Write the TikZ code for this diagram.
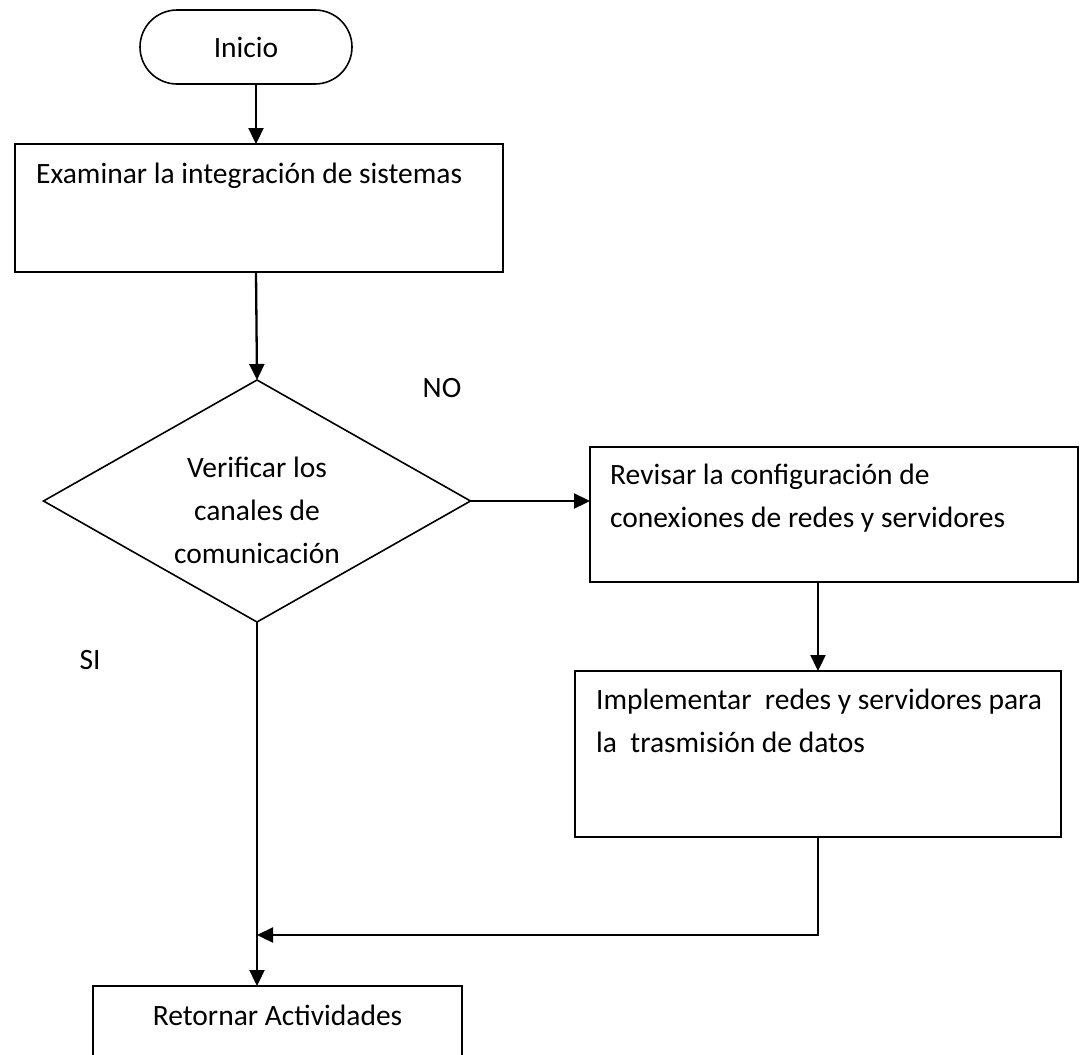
\documentclass[tikz,border=0pt]{standalone}
\usepackage{fontspec}
\setmainfont{Carlito}
\usetikzlibrary{shapes.geometric,arrows.meta,calc}
\begin{document}
\begin{tikzpicture}[x=1pt,y=-1pt,
  txt/.style={font=\fontsize{29.5}{43}\selectfont,inner sep=0pt,align=left},
  shp/.style={draw,line width=1.6pt,inner sep=0pt,outer sep=0pt},
  boxshape/.style={shp,rectangle,minimum width=#1},
  arr/.style={line width=2.3pt,-{Triangle[length=16pt,width=15pt]}}]
\useasboundingbox (0,0) rectangle (1085,1055);
\clip (0,0) rectangle (1085,1055);

% terminal
\node[shp,rounded corners=37pt,minimum width=212pt,minimum height=74pt] (start) at (246,47) {};
\node[txt] (starttxt) at (start) {Inicio};

% process boxes
\node[boxshape=488pt,minimum height=128pt] (box1) at (259,208) {};
\node[txt,anchor=west] (box1txt) at (36,176) {Examinar la integración de sistemas};

\node[shp,diamond,minimum width=427pt,minimum height=242pt] (dia) at (257,501) {};
\node[txt,align=center] (diatxt) at (257,510) {Verificar los\\canales de\\comunicación};

\node[boxshape=488pt,minimum height=135pt] (box2) at (834,514.5) {};
\node[txt,anchor=west] (box2txt) at (610,498) {Revisar la configuración de\\conexiones de redes y servidores};

\node[boxshape=486pt,minimum height=166pt] (box3) at (818,754) {};
\node[txt,anchor=west] (box3txt) at (596,721) {Implementar\ \ redes y servidores para\\la\ \ trasmisión de datos};

\node[boxshape=369pt,minimum height=100pt] (box4) at (277.5,1036) {};
\node[txt] (box4txt) at (277.5,1015) {Retornar Actividades};

% branch labels
\node[txt] (no) at (442,388) {NO};
\node[txt] (si) at (90,660) {SI};

% connectors
\coordinate (s1) at ($(start.south)+(10,0)$);
\draw[arr] (s1) -- (s1 |- box1.north);
\coordinate (b1) at ($(box1.south)+(-3,0)$);
\draw[arr] (b1) -- (dia.north);
\draw[arr] (dia.east) -- (dia.east -| box2.west);
\draw[arr] (box2.south -| box3.north) -- (box3.north);
\coordinate (join) at (dia.south |- 0,935);
\draw[arr] (box3.south) |- (join);
\draw[arr] (dia.south) -- (dia.south |- box4.north);
\end{tikzpicture}
\end{document}
